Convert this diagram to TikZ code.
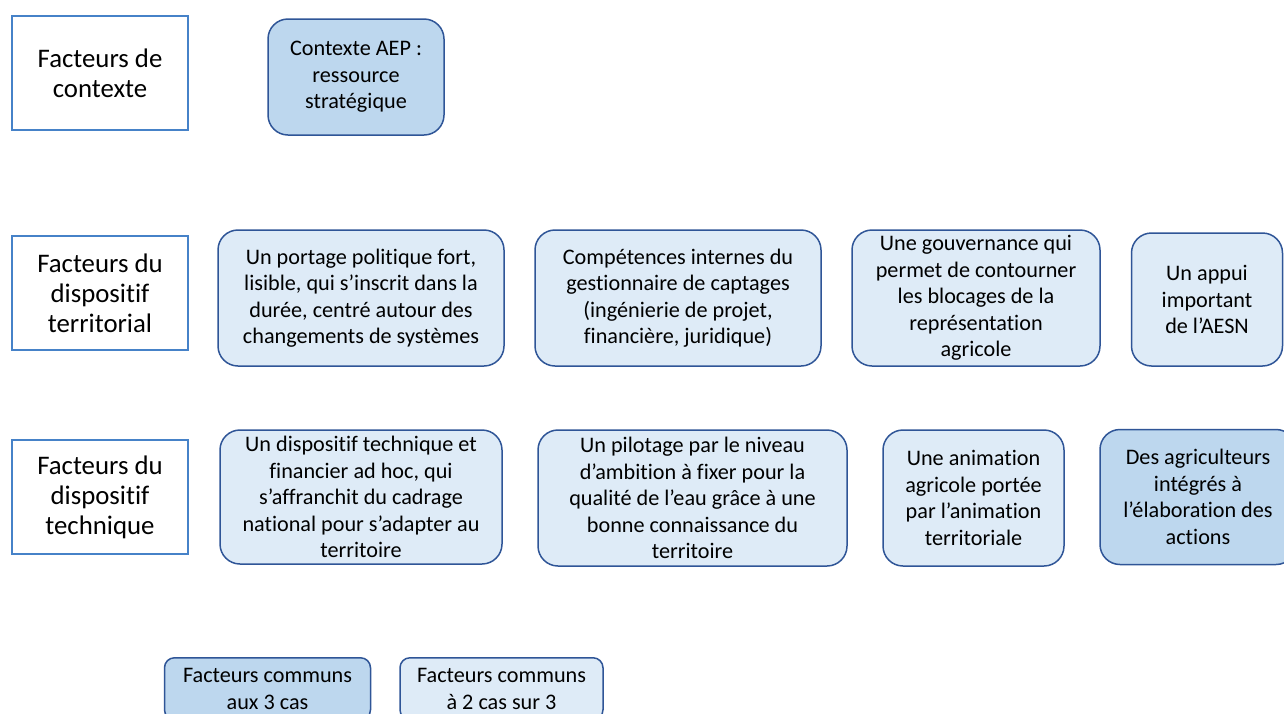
\documentclass[tikz,border=0pt]{standalone}
\usepackage{fontspec}
\setmainfont[Ligatures=CommonOff]{Carlito}
\usepackage{tikz}
\definecolor{boxline}{RGB}{47,85,151}
\definecolor{lablline}{RGB}{70,130,200}
\definecolor{darkfill}{RGB}{189,215,238}
\definecolor{lightfill}{RGB}{222,235,247}
\tikzset{
  rowlabel/.style={draw=lablline, line width=1.5pt, fill=white, align=center,
    minimum width=176, minimum height=114, inner sep=2pt,
    font=\fontsize{26.8}{30}\selectfont},
  factor/.style={draw=boxline, line width=1.5pt, rounded corners=20, align=center,
    inner sep=1pt, minimum height=136, font=\fontsize{22.2}{26.5}\selectfont},
  common/.style={factor, fill=darkfill},
  partial/.style={factor, fill=lightfill},
}

\begin{document}
\begin{tikzpicture}[x=1pt, y=-1pt]
			\useasboundingbox (0,0) rectangle (1284,713);
			\clip (0,0) rectangle (1284,713);
			\fill[white] (0,0) rectangle (1284,713);
			% row labels
			\node (ctx) [rowlabel] at (100,73) {Facteurs de\\contexte};
			\node (terr) [rowlabel] at (100,293) {Facteurs du\\dispositif\\territorial};
			\node (tech) [rowlabel] at (100,497) {Facteurs du\\dispositif\\technique};
			% contexte
			\node (aep) [common, minimum width=176, minimum height=116] at (356,77) {Contexte AEP :\\ressource\\stratégique};
			% dispositif territorial
			\node (portage) [partial, minimum width=286] at (361,298) {Un portage politique fort,\\lisible, qui s’inscrit dans la\\durée, centré autour des\\changements de systèmes};
			\node (compet) [partial, minimum width=286] at (678,298) {Compétences internes du\\gestionnaire de captages\\(ingénierie de projet,\\financière, juridique)};
			\node (gouv) [partial, minimum width=248] at (976,298) {Une gouvernance qui\\permet de contourner\\les blocages de la\\représentation\\agricole};
			\node (aesn) [partial, minimum width=151, minimum height=133] at (1207,299.5) {Un appui\\important\\de l’AESN};
			% dispositif technique
			\node (adhoc) [partial, minimum width=282, minimum height=134] at (361,497) {Un dispositif technique et\\financier ad hoc, qui\\s’affranchit du cadrage\\national pour s’adapter au\\territoire};
			\node (pilot) [partial, minimum width=309] at (692.5,498) {Un pilotage par le niveau\\d’ambition à fixer pour la\\qualité de l’eau grâce à une\\bonne connaissance du\\territoire};
			\node (anim) [partial, minimum width=181] at (973.5,498) {Une animation\\agricole portée\\par l’animation\\territoriale};
			\node (agri) [common, minimum width=196, minimum height=135] at (1198,497) {Des agriculteurs\\intégrés à\\l’élaboration des\\actions};
			% legende
			\node (leg3) [common, rounded corners=10, minimum width=206, minimum height=62, anchor=north] at (267.5,657) {Facteurs communs\\aux 3 cas};
			\node (leg2) [partial, rounded corners=10, minimum width=203, minimum height=62, anchor=north] at (501.5,657) {Facteurs communs\\à 2 cas sur 3};
\end{tikzpicture}
\end{document}
